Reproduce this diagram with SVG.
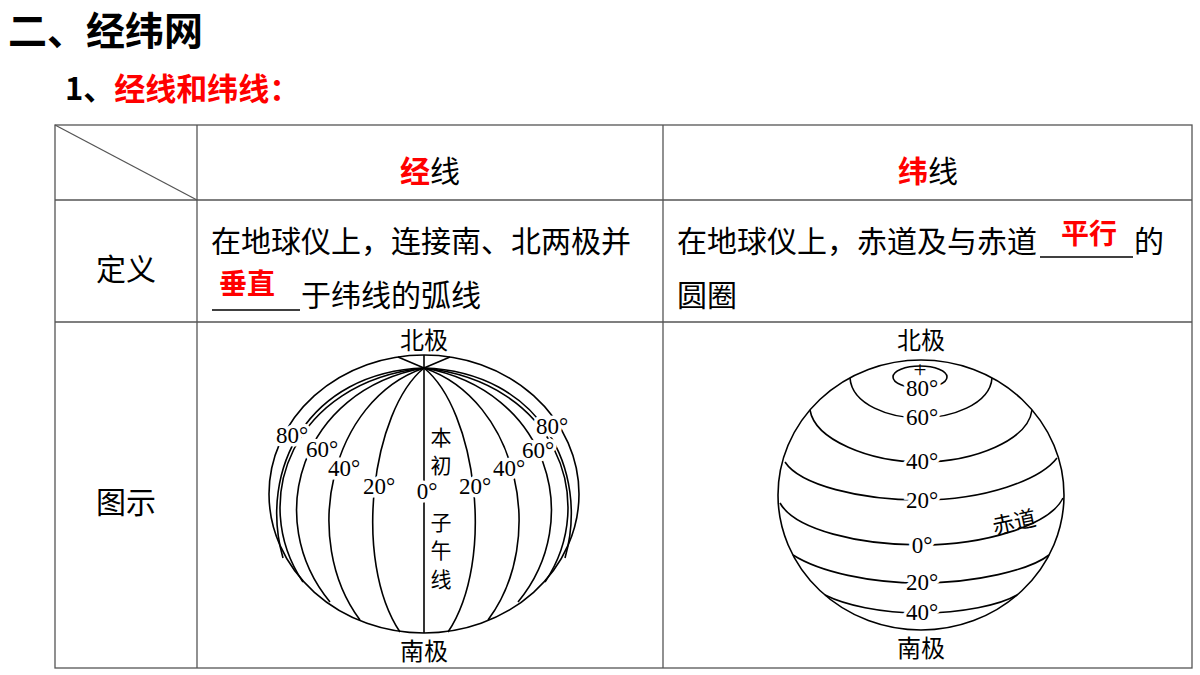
<svg xmlns="http://www.w3.org/2000/svg" width="1200" height="675" viewBox="0 0 1200 675">
<style>
.cn{font-family:"Noto Sans CJK SC","Noto Sans",sans-serif;fill:#000}
.red{fill:#ff0000;font-weight:bold}
.g{fill:none;stroke:#000;stroke-width:1.6}
.lb{font-family:"Liberation Serif","Noto Sans CJK SC",serif;font-size:23px;fill:#000;text-anchor:middle}
.lbw{paint-order:stroke;stroke:#fff;stroke-width:7}
.tl{stroke:#555;stroke-width:1.3;fill:none}
</style>
<rect width="1200" height="675" fill="#fff"/>
<text class="cn" x="8" y="45" font-size="39" font-weight="bold">二、经纬网</text>
<text class="cn" x="65" y="100" font-size="31" font-weight="bold">1、<tspan fill="#ff0000">经线和纬线：</tspan></text>

<g id="table">
<rect class="tl" x="55" y="125" width="1137" height="543"/>
<line class="tl" x1="197" y1="125" x2="197" y2="668"/>
<line class="tl" x1="663" y1="125" x2="663" y2="668"/>
<line class="tl" x1="55" y1="200" x2="1192" y2="200"/>
<line class="tl" x1="55" y1="322" x2="1192" y2="322"/>
<line class="tl" x1="55" y1="125" x2="197" y2="200"/>
<text class="cn" x="430" y="182" font-size="30" text-anchor="middle"><tspan class="red">经</tspan>线</text>
<text class="cn" x="928" y="182" font-size="30" text-anchor="middle"><tspan class="red">纬</tspan>线</text>
<text class="cn" x="126" y="280" font-size="30" text-anchor="middle">定义</text>
<text class="cn" x="126" y="513" font-size="30" text-anchor="middle">图示</text>
<text class="cn" x="211" y="252" font-size="30">在地球仪上，连接南、北两极并</text>
<text class="cn red" x="219" y="294" font-size="28">垂直</text>
<line x1="212" y1="310" x2="300" y2="310" stroke="#000" stroke-width="1.5"/>
<text class="cn" x="301" y="306" font-size="30">于纬线的弧线</text>
<text class="cn" x="677" y="252" font-size="30">在地球仪上，赤道及与赤道</text>
<text class="cn red" x="1061" y="244" font-size="28">平行</text>
<line x1="1040" y1="257" x2="1133" y2="257" stroke="#000" stroke-width="1.5"/>
<text class="cn" x="1134" y="252" font-size="30">的</text>
<text class="cn" x="677" y="306" font-size="30">圆圈</text>
</g>

<g id="globe-meridians">
<ellipse class="g" cx="424" cy="494" rx="155" ry="139"/>
<line class="g" x1="424" y1="355" x2="424" y2="633"/>
<path class="g" d="M424,368 C372,410 352,560 400,632"/>
<path class="g" d="M424,368 C330,400 300,540 360,620"/>
<path class="g" d="M424,368 C300,390 262,520 330,602"/>
<path class="g" d="M424,368 C293,382 248,500 303,582"/>
<path class="g" d="M424,368 C308,372 258,470 283,558"/>
<path class="g" d="M424,368 C476,410 496,560 448,632"/>
<path class="g" d="M424,368 C518,400 548,540 488,620"/>
<path class="g" d="M424,368 C548,390 586,520 518,602"/>
<path class="g" d="M424,368 C555,382 600,500 545,582"/>
<path class="g" d="M424,368 C540,372 590,470 565,558"/>
<path class="g" d="M424,368 L398,357 M424,368 L450,357"/>
<text class="cn" x="424" y="349" font-size="24" text-anchor="middle">北极</text>
<text class="cn" x="424" y="660" font-size="24" text-anchor="middle">南极</text>
<text class="lb lbw" x="292" y="443">80°</text>
<text class="lb lbw" x="322" y="457">60°</text>
<text class="lb lbw" x="344" y="476">40°</text>
<text class="lb lbw" x="379" y="494">20°</text>
<text class="lb lbw" x="427" y="499">0°</text>
<text class="lb lbw" x="475" y="494">20°</text>
<text class="lb lbw" x="509" y="476">40°</text>
<text class="lb lbw" x="538" y="458">60°</text>
<text class="lb lbw" x="552" y="434">80°</text>
<g class="cn" font-size="21" text-anchor="middle">
<text x="441" y="445">本</text><text x="441" y="473">初</text>
<text x="441" y="530">子</text><text x="441" y="558">午</text><text x="441" y="587">线</text>
</g>
</g>

<g id="globe-parallels">
<ellipse class="g" cx="921" cy="495" rx="143" ry="135"/>
<ellipse class="g" cx="920" cy="377" rx="27" ry="11"/>
<path class="g" d="M850,378 C852,405 890,418 920,418 C950,418 990,405 992,378"/>
<path class="g" d="M810,410 C815,440 870,462 921,462 C975,462 1028,440 1032,410"/>
<path class="g" d="M785,462 C800,485 860,500 921,500 C985,500 1040,480 1057,458"/>
<path class="g" d="M780,503 C795,530 860,545 921,545 C985,545 1050,525 1063,498"/>
<path class="g" d="M793,555 C820,572 870,583 921,583 C975,583 1030,570 1049,555"/>
<path class="g" d="M825,595 C845,605 880,613 921,613 C962,613 1000,605 1017,595"/>
<text class="cn" x="921" y="349" font-size="24" text-anchor="middle">北极</text>
<text class="cn" x="921" y="657" font-size="24" text-anchor="middle">南极</text>
<text class="lb" x="920" y="377" font-size="18">+</text>
<text class="lb lbw" x="922" y="396">80°</text>
<text class="lb lbw" x="922" y="425">60°</text>
<text class="lb lbw" x="922" y="469">40°</text>
<text class="lb lbw" x="922" y="508">20°</text>
<text class="lb lbw" x="922" y="553">0°</text>
<text class="lb lbw" x="922" y="590">20°</text>
<text class="lb lbw" x="922" y="620">40°</text>
<text class="cn" x="1014" y="530" font-size="22" text-anchor="middle" transform="rotate(-12 1014 522)">赤道</text>
</g>
</svg>
